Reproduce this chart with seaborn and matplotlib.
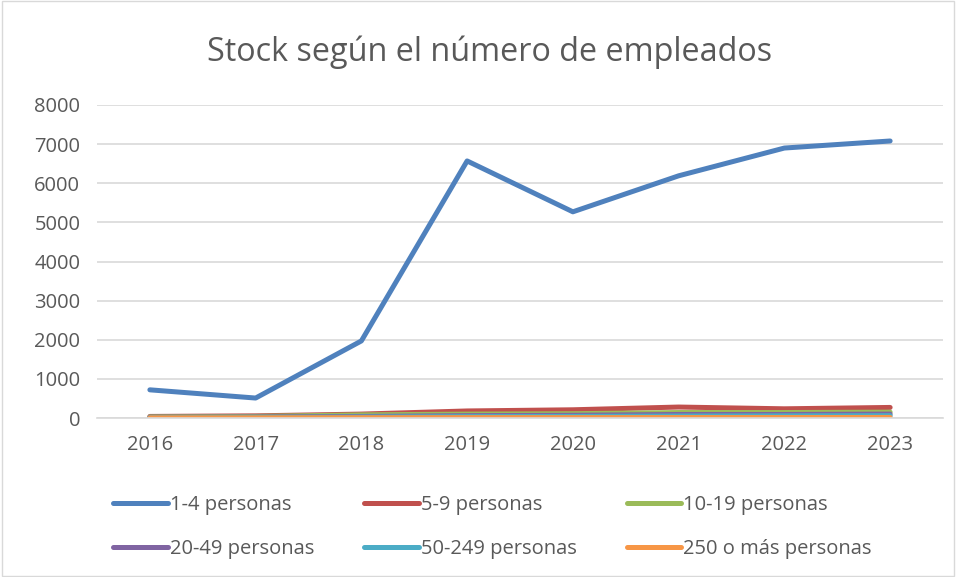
import pandas as pd
import seaborn as sns
import matplotlib.pyplot as plt
from matplotlib.patches import Rectangle

# Data
years = ['2016', '2017', '2018', '2019', '2020', '2021', '2022', '2023']
series_names = ['1-4 personas', '5-9 personas', '10-19 personas',
                '20-49 personas', '50-249 personas', '250 o más personas']
v_1_4 = [720, 510, 1970, 6570, 5270, 6190, 6900, 7080]
v_5_9 = [40, 55, 100, 180, 210, 280, 235, 270]
v_10_19 = [30, 40, 80, 100, 110, 140, 140, 150]
v_20_49 = [20, 25, 40, 60, 70, 90, 90, 100]
v_50_249 = [10, 15, 25, 35, 40, 50, 55, 60]
v_250 = [5, 5, 8, 10, 10, 12, 12, 14]
colors = ['#4f81bd', '#c0504d', '#9bbb59', '#8064a2', '#4bacc6', '#f79646']

values = [v_1_4, v_5_9, v_10_19, v_20_49, v_50_249, v_250]
df = pd.DataFrame({
    'year': years * len(series_names),
    'x': list(range(len(years))) * len(series_names),
    'serie': [s for s in series_names for _ in years],
    'stock': [v for vals in values for v in vals],
})

sns.set_style('white')
plt.rcParams['font.family'] = ['Open Sans', 'DejaVu Sans']
text_color = '#595959'

fig = plt.figure(figsize=(9.56, 5.77), dpi=100)
ax = fig.add_axes([97 / 956, 1 - 418 / 577, (943 - 97) / 956, (418 - 105) / 577])

sns.lineplot(data=df, x='x', y='stock', hue='serie', hue_order=series_names,
             palette=colors, linewidth=3.6, ax=ax, legend=False,
             solid_capstyle='round', solid_joinstyle='round')

ax.set_xlim(-0.5, len(years) - 0.5)
ax.set_ylim(0, 8000)
ax.set_yticks(range(0, 8001, 1000))
ax.set_xticks(range(len(years)))
ax.set_xticklabels(years)
ax.set_xlabel('')
ax.set_ylabel('')
ax.grid(axis='y', color='#d9d9d9', linewidth=1.2)
ax.set_axisbelow(True)
for side in ['top', 'right', 'left']:
    ax.spines[side].set_visible(False)
ax.spines['bottom'].set_color('#d9d9d9')
ax.spines['bottom'].set_linewidth(1.2)
ax.tick_params(axis='both', length=0, labelsize=14.5, colors=text_color)
ax.tick_params(axis='x', pad=12)
ax.tick_params(axis='y', pad=12)

fig.text(490 / 956, 1 - 52 / 577, 'Stock según el número de empleados',
         ha='center', va='center', fontsize=23.3, color=text_color)

# legend filled row by row like the reference
handles = [plt.Line2D([], [], color=c, linewidth=3.6, solid_capstyle='round')
           for c in colors]
order = [0, 3, 1, 4, 2, 5]
fig.legend([handles[i] for i in order], [series_names[i] for i in order],
           loc='center left', ncol=3,
           bbox_to_anchor=(95 / 956, 1 - 527 / 577), frameon=False,
           fontsize=14.5, labelcolor=text_color, handlelength=2.7,
           handletextpad=0.1, columnspacing=2.5, labelspacing=1.15)

fig.add_artist(Rectangle((0.002, 0.002), 0.996, 0.996, transform=fig.transFigure,
                         fill=False, edgecolor='#d9d9d9', linewidth=1))

plt.savefig('out.png', dpi=100)
